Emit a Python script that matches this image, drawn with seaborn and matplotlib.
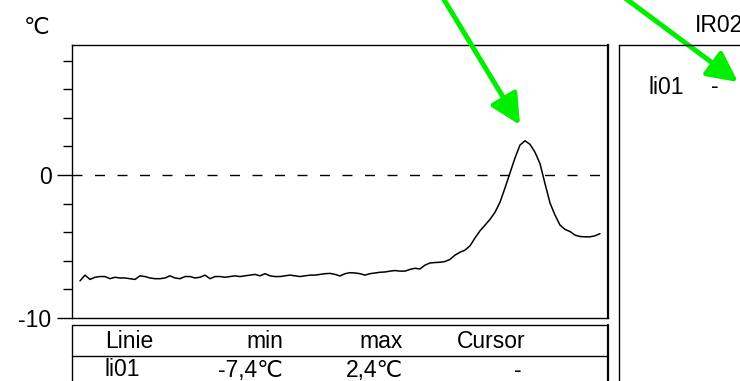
import numpy as np
import pandas as pd
import matplotlib
matplotlib.use("Agg")
import matplotlib.pyplot as plt
import seaborn as sns
from matplotlib.lines import Line2D

# ---- data ----
temps = [-7.4, -7.0, -7.3, -7.15, -7.1, -7.1, -7.25, -7.15, -7.2, -7.2,
         -7.25, -7.3, -7.05, -7.1, -7.2, -7.25, -7.25, -7.2, -7.05, -7.2,
         -7.25, -7.1, -7.1, -7.2, -7.15, -7.0, -7.25, -7.1, -7.1, -7.15,
         -7.1, -7.05, -7.1, -7.05, -7.0, -6.95, -7.05, -6.9, -7.05, -7.1,
         -7.1, -7.05, -7.0, -7.05, -7.1, -7.05, -7.0, -7.0, -6.95, -6.9,
         -6.88, -6.95, -7.06, -6.9, -6.83, -6.85, -6.9, -7.0, -6.9, -6.85,
         -6.8, -6.78, -6.72, -6.68, -6.72, -6.72, -6.6, -6.52, -6.57, -6.3,
         -6.15, -6.12, -6.1, -6.05, -5.9, -5.6, -5.4, -5.25, -4.95, -4.4,
         -3.9, -3.5, -3.1, -2.6, -1.9, -0.9, 0.15, 1.2, 2.1, 2.4,
         2.15, 1.6, 0.8, -0.6, -1.95, -2.8, -3.5, -3.8, -3.95, -4.2,
         -4.3, -4.32, -4.32, -4.25, -4.1]
samples = list(range(len(temps)))
ytick_major = [-10, 0]
ytick_labels = ["-10", "0"]
ytick_minor = [-8, -6, -4, -2, 2, 4, 6, 8]
unit = "\u2103"
table_header = ["Linie", "min", "max", "Cursor"]
table_row = ["li01", "-7,4\u2103", "2,4\u2103", "-"]
side_label = "li01"
side_value = "-"
title_right = "IR02"

df = pd.DataFrame({"sample": samples, "temp": temps})

sns.set_style("white")
plt.rcParams['font.family'] = ['Liberation Sans', 'DejaVu Sans']
plt.rcParams['text.color'] = 'black'
plt.rcParams['ytick.color'] = 'black'
plt.rcParams['ytick.labelcolor'] = 'black'

W, H = 740, 381
fig = plt.figure(figsize=(W / 100, H / 100), dpi=100)

def fx(px):
    return px / W

def fy(py):
    return 1 - py / H

ax = fig.add_axes([fx(72), fy(318), fx(608) - fx(72), fy(45) - fy(318)])
sns.lineplot(data=df, x="sample", y="temp", ax=ax, color="black", linewidth=1.1)
zl, = ax.plot([-1.6, 105.6], [0, 0], color="black", linewidth=1.0)
ax.set_xlim(-1.6, 105.6)
zl.set_dashes((7.2, 9.0))
zl.set_dash_capstyle("butt")
ax.set_ylim(-10, 9.1)
ax.set_xticks([])
ax.set_yticks(ytick_major)
ax.set_yticklabels(ytick_labels, fontsize=16.5, color="black")
ax.set_yticks(ytick_minor, minor=True)
ax.tick_params(axis="y", which="major", length=10.8, width=1, direction="out",
               left=True, pad=4, colors="black")
ax.tick_params(axis="y", which="minor", length=6.5, width=1, direction="out",
               left=True, colors="black")
ax.set_xlabel("")
ax.set_ylabel("")
for s in ax.spines.values():
    s.set_color("black")
    s.set_linewidth(1.0)
ax.spines["right"].set_linewidth(1.6)

fs = 16.5
fig.text(fx(24), fy(27), unit, fontsize=fs, ha="left", va="center")
fig.text(fx(695), fy(25), title_right, fontsize=fs, ha="left", va="center")

# table box
fig.add_artist(Line2D([fx(72), fx(72)], [fy(325), fy(390)], color="black", lw=1.0))
fig.add_artist(Line2D([fx(72), fx(608)], [fy(325), fy(325)], color="black", lw=1.0))
fig.add_artist(Line2D([fx(608), fx(608)], [fy(325), fy(390)], color="black", lw=1.6))
fig.add_artist(Line2D([fx(72), fx(608)], [fy(356), fy(356)], color="black", lw=1.0))

fig.text(fx(105), fy(341), table_header[0], fontsize=fs, ha="left", va="center")
fig.text(fx(283), fy(341), table_header[1], fontsize=fs, ha="right", va="center")
fig.text(fx(403), fy(341), table_header[2], fontsize=fs, ha="right", va="center")
fig.text(fx(525), fy(341), table_header[3], fontsize=fs, ha="right", va="center")
fig.text(fx(105), fy(370), table_row[0], fontsize=fs, ha="left", va="center")
fig.text(fx(283), fy(370), table_row[1], fontsize=fs, ha="right", va="center")
fig.text(fx(403), fy(370), table_row[2], fontsize=fs, ha="right", va="center")
fig.text(fx(522), fy(370), table_row[3], fontsize=fs, ha="right", va="center")

# right panel box
fig.add_artist(Line2D([fx(619), fx(619)], [fy(45), fy(390)], color="black", lw=1.0))
fig.add_artist(Line2D([fx(619), fx(745)], [fy(45), fy(45)], color="black", lw=1.0))
fig.text(fx(649), fy(87), side_label, fontsize=fs, ha="left", va="center")
fig.text(fx(715), fy(86), side_value, fontsize=fs, ha="center", va="center")

# green arrows
green = "#00ee00"
for (x0, y0), (x1, y1) in [((443, -2), (520, 125)), ((625, -2), (738, 82))]:
    ax.annotate("", xy=(x1, H - y1), xycoords="figure pixels",
                xytext=(x0, H - y0), textcoords="figure pixels",
                arrowprops=dict(arrowstyle="-|>,head_length=1.3,head_width=0.65",
                                color=green, lw=3.6, mutation_scale=14,
                                shrinkA=0, shrinkB=0),
                annotation_clip=False)

fig.savefig("out.png", dpi=100)
